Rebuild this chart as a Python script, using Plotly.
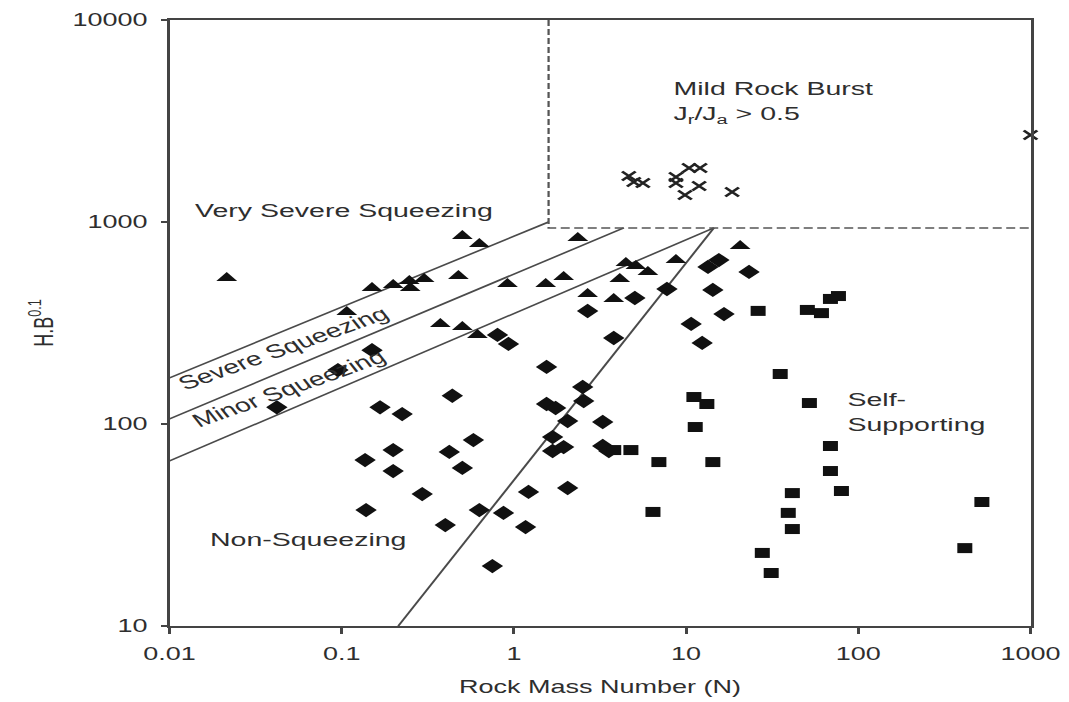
import plotly.graph_objects as go

# Squeezing cases (triangles): rock mass number N and H.B^0.1
tri_n = [0.0215, 0.107, 0.150, 0.199, 0.247, 0.250, 0.301, 0.476, 0.502, 0.630,
         0.374, 0.502, 0.614, 0.918, 1.53, 1.945, 2.35, 2.68, 3.80, 4.12,
         4.47, 5.11, 6.00, 8.73, 20.6]
tri_h = [528, 358, 471, 488, 510, 471, 522, 540, 852, 778,
         313, 302, 276, 493, 493, 534, 833, 440, 416, 522,
         627, 606, 566, 648, 761]

# Non-squeezing cases (diamonds)
dia_n = [0.042, 0.167, 0.2245, 0.439, 0.1367, 0.199, 0.199, 0.582, 0.4216, 0.502,
         0.2935, 0.1385, 0.3996, 0.630, 0.870, 1.169, 1.216, 0.750, 2.052, 1.678,
         1.678, 1.945, 2.052, 1.548, 1.747, 2.509, 2.543, 3.28, 3.28, 3.56,
         0.803, 0.930, 1.548, 2.68, 3.80, 5.04, 7.74, 13.4, 15.5, 23.2,
         14.3, 16.6, 10.7, 12.4, 0.0951, 0.150]
dia_h = [121, 121, 112, 138, 66.3, 74.3, 58.5, 83.3, 72.7, 60.6,
         45.0, 37.5, 31.6, 37.5, 36.3, 30.9, 46.1, 19.8, 48.2, 86.2,
         73.5, 76.9, 103.5, 125.6, 120, 152.5, 130, 102.3, 77.8, 73.5,
         276, 249, 191.6, 362.6, 266.6, 420.6, 466, 599, 648, 566,
         461, 350, 313, 252, 185, 232]

# Self-supporting cases (squares)
sq_n = [26.2, 50.6, 61.1, 68.9, 76.7, 35.2, 52.0, 11.1, 13.2, 11.3,
        3.80, 4.78, 6.95, 14.3, 68.9, 68.9, 79.8, 6.42, 41.4, 39.2,
        41.4, 27.7, 31.2, 522, 415.5]
sq_h = [363, 367, 354, 416, 430, 176.8, 127, 136, 125.6, 96.6,
        74.3, 74.3, 64.8, 64.8, 77.8, 58.5, 46.6, 36.7, 45.5, 36.3,
        30.2, 23.0, 18.3, 41.1, 24.3]

# Rock burst cases (crosses)
burst_n = [4.65, 4.97, 5.61, 8.73, 8.73, 10.4, 12.05, 11.9, 9.85, 18.5, 1000]
burst_h = [1690, 1578, 1560, 1670, 1560, 1851, 1851, 1507, 1361, 1408, 2697]

# Zone boundaries (N, H.B^0.1 end points)
upper_n, upper_h = [0.01, 1.59], [169, 1000]
middle_n, middle_h = [0.01, 4.35], [106, 935]
lower_n, lower_h = [0.01, 14.5], [65.6, 935]
steep_n, steep_h = [0.213, 14.5], [10, 935]
burst_box_n = [1.59, 1.59, 1000]
burst_box_h = [10000, 935, 935]

x_ticks = [0.01, 0.1, 1, 10, 100, 1000]
x_tick_text = ["0.01", "0.1", "1", "10", "100", "1000"]
y_ticks = [10, 100, 1000, 10000]
y_tick_text = ["10", "100", "1000", "10000"]

FONT = "Liberation Sans, Arial, Helvetica, sans-serif"
TEXT = "#2e2e2e"
INK = "#111111"
STRETCH = 1.5

fig = go.Figure()

for xs, ys in [(upper_n, upper_h), (middle_n, middle_h),
               (lower_n, lower_h), (steep_n, steep_h)]:
    fig.add_trace(go.Scatter(x=xs, y=ys, mode="lines",
                             line=dict(color="#4a4a4a", width=1.5),
                             hoverinfo="skip", showlegend=False))

fig.add_trace(go.Scatter(x=burst_box_n, y=burst_box_h, mode="lines",
                         line=dict(color="#555555", width=1.5, dash="6px,3px"),
                         hoverinfo="skip", showlegend=False))

fig.add_trace(go.Scatter(x=tri_n, y=tri_h, mode="markers", name="Squeezing",
                         marker=dict(symbol="triangle-up", size=12, color=INK),
                         showlegend=False))
fig.add_trace(go.Scatter(x=dia_n, y=dia_h, mode="markers", name="Non-squeezing",
                         marker=dict(symbol="diamond", size=11, color=INK),
                         showlegend=False))
fig.add_trace(go.Scatter(x=sq_n, y=sq_h, mode="markers", name="Self-supporting",
                         marker=dict(symbol="square", size=10, color=INK),
                         showlegend=False))
fig.add_trace(go.Scatter(x=burst_n, y=burst_h, mode="markers", name="Rock burst",
                         marker=dict(symbol="x-thin", size=9,
                                     line=dict(color="#222222", width=2.2)),
                         cliponaxis=False, showlegend=False))

ann_font = dict(family=FONT, size=19, color=TEXT)
notes = [
    dict(x=0.912, y=3.663, text="Mild Rock Burst", xanchor="left"),
    dict(x=0.912, y=3.530, text="J<sub>r</sub>/J<sub>a</sub> > 0.5", xanchor="left"),
    dict(x=-0.981, y=3.059, text="Very Severe Squeezing", xanchor="center"),
    dict(x=-1.342, y=2.376, text="Severe Squeezing", xanchor="center", textangle=-28),
    dict(x=-1.307, y=2.178, text="Minor Squeezing", xanchor="center", textangle=-28),
    dict(x=-1.196, y=1.426, text="Non-Squeezing", xanchor="center"),
    dict(x=1.920, y=2.057, text="Self-<br>Supporting", xanchor="left", align="left"),
]
for n in notes:
    fig.add_annotation(xref="x", yref="y", showarrow=False, yanchor="middle",
                       font=ann_font, **n)

axis_common = dict(
    type="log", showgrid=False, zeroline=False, automargin=False,
    showline=True, linecolor="#444444", linewidth=2, mirror=True,
    ticks="outside", tickcolor="#444444", tickwidth=1.5,
    tickfont=dict(family=FONT, size=18, color=TEXT),
)

fig.update_xaxes(range=[-2, 3], tickvals=x_ticks, ticktext=x_tick_text,
                 ticklen=6, ticklabelstandoff=4,
                 title=dict(text="Rock Mass Number (N)", standoff=18,
                            font=dict(family=FONT, size=18, color=TEXT)),
                 **axis_common)
fig.update_yaxes(range=[1, 4], tickvals=y_ticks, ticktext=y_tick_text,
                 ticklen=4, ticklabelstandoff=5,
                 title=dict(text="H.B<sup>0.1</sup>", standoff=8,
                            font=dict(family=FONT, size=18, color=TEXT)),
                 **axis_common)

fig.update_layout(
    width=712, height=702,
    margin=dict(l=113, r=25, t=20, b=76),
    paper_bgcolor="white", plot_bgcolor="white",
    showlegend=False,
)

# The chart is drawn narrow and widened horizontally in the page.
post = ("var gd=document.getElementById('{plot_id}');"
        "document.body.style.margin='0';"
        "document.body.style.overflow='hidden';"
        "gd.style.transformOrigin='0 0';"
        "gd.style.transform='scaleX(" + str(STRETCH) + ")';")

fig.write_html("out.html", config={"displayModeBar": False}, post_script=post)
